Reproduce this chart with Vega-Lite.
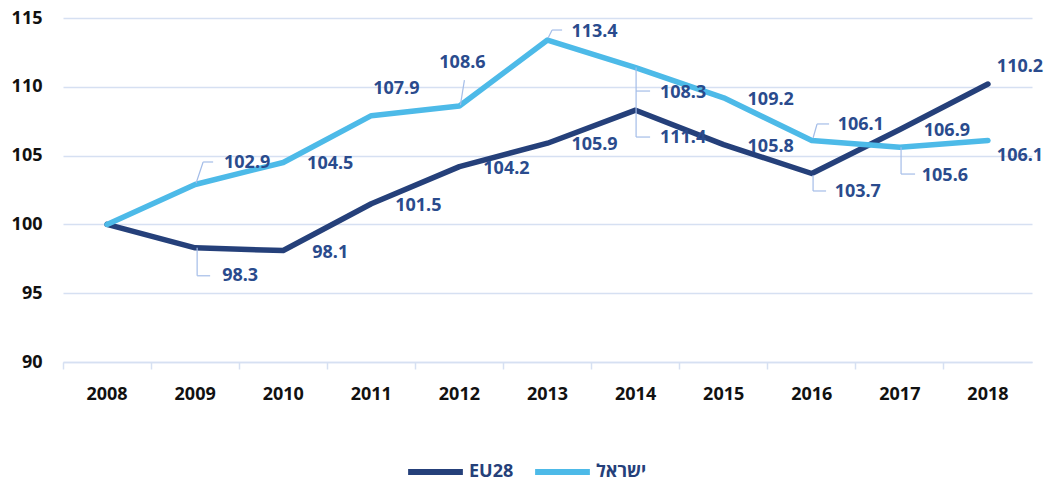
{
  "$schema": "https://vega.github.io/schema/vega-lite/v6.json",
  "autosize": "none",
  "width": 969,
  "height": 344,
  "padding": {"left": 63, "top": 18, "right": 23, "bottom": 120},
  "background": "white",
  "config": {"view": {"stroke": null}, "font": "Noto Sans"},
  "data": {"values": [
    {"year": "2008", "series": "EU28", "value": 100},
    {"year": "2009", "series": "EU28", "value": 98.3},
    {"year": "2010", "series": "EU28", "value": 98.1},
    {"year": "2011", "series": "EU28", "value": 101.5},
    {"year": "2012", "series": "EU28", "value": 104.2},
    {"year": "2013", "series": "EU28", "value": 105.9},
    {"year": "2014", "series": "EU28", "value": 108.3},
    {"year": "2015", "series": "EU28", "value": 105.8},
    {"year": "2016", "series": "EU28", "value": 103.7},
    {"year": "2017", "series": "EU28", "value": 106.9},
    {"year": "2018", "series": "EU28", "value": 110.2},
    {"year": "2008", "series": "ישראל", "value": 100},
    {"year": "2009", "series": "ישראל", "value": 102.9},
    {"year": "2010", "series": "ישראל", "value": 104.5},
    {"year": "2011", "series": "ישראל", "value": 107.9},
    {"year": "2012", "series": "ישראל", "value": 108.6},
    {"year": "2013", "series": "ישראל", "value": 113.4},
    {"year": "2014", "series": "ישראל", "value": 111.4},
    {"year": "2015", "series": "ישראל", "value": 109.2},
    {"year": "2016", "series": "ישראל", "value": 106.1},
    {"year": "2017", "series": "ישראל", "value": 105.6},
    {"year": "2018", "series": "ישראל", "value": 106.1}
  ]},
  "encoding": {
    "x": {"field": "year", "type": "nominal", "title": null,
      "scale": {"type": "band", "paddingInner": 0, "paddingOuter": 0},
      "axis": {"bandPosition": 0, "domainColor": "#D6E0F2", "domainWidth": 1.5, "tickColor": "#D6E0F2", "tickWidth": 1.5, "tickSize": 7, "labelPadding": 16, "labelAngle": 0, "labelFont": "Noto Sans", "labelFontSize": 18, "labelFontWeight": "bold", "labelColor": "#111111", "grid": false}},
    "y": {"field": "value", "type": "quantitative", "title": null,
      "scale": {"domain": [90, 115], "nice": false, "zero": false},
      "axis": {"values": [90, 95, 100, 105, 110, 115], "domain": false, "ticks": false, "labelPadding": 21, "labelFont": "Noto Sans", "labelFontSize": 18, "labelFontWeight": "bold", "labelColor": "#111111", "gridColor": "#D6E0F2", "gridWidth": 1.5}}
  },
  "layer": [
    {"mark": {"type": "line", "strokeWidth": 5.5, "strokeCap": "round", "strokeJoin": "round"},
     "encoding": {"color": {"field": "series", "type": "nominal", "title": null,
       "scale": {"domain": ["EU28", "ישראל"], "range": ["#25407A", "#4DBAE8"]},
       "legend": {"orient": "none", "legendX": 342, "legendY": 444, "direction": "horizontal", "symbolType": "stroke", "symbolSize": 3000, "symbolStrokeWidth": 6, "clipHeight": 20, "labelFont": "Open Sans, DejaVu Sans", "labelFontSize": 18, "labelFontWeight": "bold", "labelColor": "#25407A", "labelOffset": 3, "columnPadding": 18}}}},
    {"transform": [{"filter": {"field": "series", "equal": "EU28"}}, {"filter": {"field": "year", "equal": "2009"}}],
     "mark": {"type": "rule", "color": "#A4BDE8", "strokeWidth": 1.2, "xOffset": 2, "x2Offset": 2, "yOffset": 0, "y2Offset": 28},
     "encoding": {"x2": {"field": "year"}, "y2": {"field": "value"}}},
    {"transform": [{"filter": {"field": "series", "equal": "EU28"}}, {"filter": {"field": "year", "equal": "2009"}}],
     "mark": {"type": "rule", "color": "#A4BDE8", "strokeWidth": 1.2, "xOffset": 2, "x2Offset": 15, "yOffset": 28, "y2Offset": 28},
     "encoding": {"x2": {"field": "year"}, "y2": {"field": "value"}}},
    {"transform": [{"filter": {"field": "series", "equal": "ישראל"}}, {"filter": {"field": "year", "equal": "2009"}}],
     "mark": {"type": "rule", "color": "#A4BDE8", "strokeWidth": 1.2, "xOffset": 1, "x2Offset": 8, "yOffset": -1.5, "y2Offset": -22.5},
     "encoding": {"x2": {"field": "year"}, "y2": {"field": "value"}}},
    {"transform": [{"filter": {"field": "series", "equal": "ישראל"}}, {"filter": {"field": "year", "equal": "2009"}}],
     "mark": {"type": "rule", "color": "#A4BDE8", "strokeWidth": 1.2, "xOffset": 8, "x2Offset": 18, "yOffset": -22.5, "y2Offset": -22.5},
     "encoding": {"x2": {"field": "year"}, "y2": {"field": "value"}}},
    {"transform": [{"filter": {"field": "series", "equal": "ישראל"}}, {"filter": {"field": "year", "equal": "2012"}}],
     "mark": {"type": "rule", "color": "#A4BDE8", "strokeWidth": 1.2, "xOffset": 1, "x2Offset": 5, "yOffset": -1, "y2Offset": -26},
     "encoding": {"x2": {"field": "year"}, "y2": {"field": "value"}}},
    {"transform": [{"filter": {"field": "series", "equal": "ישראל"}}, {"filter": {"field": "year", "equal": "2013"}}],
     "mark": {"type": "rule", "color": "#A4BDE8", "strokeWidth": 1.2, "xOffset": 0.6, "x2Offset": 4.6, "yOffset": -2, "y2Offset": -10},
     "encoding": {"x2": {"field": "year"}, "y2": {"field": "value"}}},
    {"transform": [{"filter": {"field": "series", "equal": "ישראל"}}, {"filter": {"field": "year", "equal": "2013"}}],
     "mark": {"type": "rule", "color": "#A4BDE8", "strokeWidth": 1.2, "xOffset": 4.6, "x2Offset": 14.6, "yOffset": -10, "y2Offset": -10},
     "encoding": {"x2": {"field": "year"}, "y2": {"field": "value"}}},
    {"transform": [{"filter": {"field": "series", "equal": "ישראל"}}, {"filter": {"field": "year", "equal": "2014"}}],
     "mark": {"type": "rule", "color": "#A4BDE8", "strokeWidth": 1.2, "xOffset": 0.5, "x2Offset": 0.5, "yOffset": 0, "y2Offset": 69.5},
     "encoding": {"x2": {"field": "year"}, "y2": {"field": "value"}}},
    {"transform": [{"filter": {"field": "series", "equal": "ישראל"}}, {"filter": {"field": "year", "equal": "2014"}}],
     "mark": {"type": "rule", "color": "#A4BDE8", "strokeWidth": 1.2, "xOffset": 0.5, "x2Offset": 14.5, "yOffset": 23.5, "y2Offset": 23.5},
     "encoding": {"x2": {"field": "year"}, "y2": {"field": "value"}}},
    {"transform": [{"filter": {"field": "series", "equal": "ישראל"}}, {"filter": {"field": "year", "equal": "2014"}}],
     "mark": {"type": "rule", "color": "#A4BDE8", "strokeWidth": 1.2, "xOffset": 0.5, "x2Offset": 14.5, "yOffset": 69.5, "y2Offset": 69.5},
     "encoding": {"x2": {"field": "year"}, "y2": {"field": "value"}}},
    {"transform": [{"filter": {"field": "series", "equal": "ישראל"}}, {"filter": {"field": "year", "equal": "2016"}}],
     "mark": {"type": "rule", "color": "#A4BDE8", "strokeWidth": 1.2, "xOffset": 1.3, "x2Offset": 5.3, "yOffset": -2.5, "y2Offset": -16.5},
     "encoding": {"x2": {"field": "year"}, "y2": {"field": "value"}}},
    {"transform": [{"filter": {"field": "series", "equal": "ישראל"}}, {"filter": {"field": "year", "equal": "2016"}}],
     "mark": {"type": "rule", "color": "#A4BDE8", "strokeWidth": 1.2, "xOffset": 5.3, "x2Offset": 17.3, "yOffset": -16.5, "y2Offset": -16.5},
     "encoding": {"x2": {"field": "year"}, "y2": {"field": "value"}}},
    {"transform": [{"filter": {"field": "series", "equal": "EU28"}}, {"filter": {"field": "year", "equal": "2016"}}],
     "mark": {"type": "rule", "color": "#A4BDE8", "strokeWidth": 1.2, "xOffset": 1.3, "x2Offset": 1.3, "yOffset": 1.5, "y2Offset": 17.5},
     "encoding": {"x2": {"field": "year"}, "y2": {"field": "value"}}},
    {"transform": [{"filter": {"field": "series", "equal": "EU28"}}, {"filter": {"field": "year", "equal": "2016"}}],
     "mark": {"type": "rule", "color": "#A4BDE8", "strokeWidth": 1.2, "xOffset": 1.3, "x2Offset": 14.3, "yOffset": 17.5, "y2Offset": 17.5},
     "encoding": {"x2": {"field": "year"}, "y2": {"field": "value"}}},
    {"transform": [{"filter": {"field": "series", "equal": "ישראל"}}, {"filter": {"field": "year", "equal": "2017"}}],
     "mark": {"type": "rule", "color": "#A4BDE8", "strokeWidth": 1.2, "xOffset": 1.2, "x2Offset": 1.2, "yOffset": 0, "y2Offset": 26.7},
     "encoding": {"x2": {"field": "year"}, "y2": {"field": "value"}}},
    {"transform": [{"filter": {"field": "series", "equal": "ישראל"}}, {"filter": {"field": "year", "equal": "2017"}}],
     "mark": {"type": "rule", "color": "#A4BDE8", "strokeWidth": 1.2, "xOffset": 1.2, "x2Offset": 15.2, "yOffset": 26.7, "y2Offset": 26.7},
     "encoding": {"x2": {"field": "year"}, "y2": {"field": "value"}}},
    {"transform": [{"filter": {"or": [
        {"and": [{"field": "series", "equal": "EU28"}, {"field": "year", "oneOf": ["2010", "2011", "2012", "2013", "2015", "2017"]}]},
        {"and": [{"field": "series", "equal": "ישראל"}, {"field": "year", "oneOf": ["2010", "2015"]}]}]}}],
     "mark": {"type": "text", "dx": 47, "dy": 2, "font": "Noto Sans", "fontSize": 18, "fontWeight": "bold", "color": "#2A4B8D", "align": "center", "baseline": "middle"},
     "encoding": {"text": {"field": "value", "type": "quantitative", "format": ".1f"}}},
    {"transform": [{"filter": {"or": [
        {"and": [{"field": "series", "equal": "EU28"}, {"field": "year", "equal": "2009"}]},
        {"and": [{"field": "series", "equal": "ישראל"}, {"field": "year", "equal": "2017"}]}]}}],
     "mark": {"type": "text", "dx": 45, "dy": 28.5, "font": "Noto Sans", "fontSize": 18, "fontWeight": "bold", "color": "#2A4B8D", "align": "center", "baseline": "middle"},
     "encoding": {"text": {"field": "value", "type": "quantitative", "format": ".1f"}}},
    {"transform": [{"filter": {"and": [{"field": "series", "equal": "EU28"}, {"field": "year", "equal": "2016"}]}}],
     "mark": {"type": "text", "dx": 46, "dy": 18.5, "font": "Noto Sans", "fontSize": 18, "fontWeight": "bold", "color": "#2A4B8D", "align": "center", "baseline": "middle"},
     "encoding": {"text": {"field": "value", "type": "quantitative", "format": ".1f"}}},
    {"transform": [{"filter": {"and": [{"field": "series", "equal": "EU28"}, {"field": "year", "equal": "2014"}]}}],
     "mark": {"type": "text", "dx": 47.5, "dy": -17, "font": "Noto Sans", "fontSize": 18, "fontWeight": "bold", "color": "#2A4B8D", "align": "center", "baseline": "middle"},
     "encoding": {"text": {"field": "value", "type": "quantitative", "format": ".1f"}}},
    {"transform": [{"filter": {"and": [{"field": "series", "equal": "ישראל"}, {"field": "year", "equal": "2014"}]}}],
     "mark": {"type": "text", "dx": 47.5, "dy": 70.5, "font": "Noto Sans", "fontSize": 18, "fontWeight": "bold", "color": "#2A4B8D", "align": "center", "baseline": "middle"},
     "encoding": {"text": {"field": "value", "type": "quantitative", "format": ".1f"}}},
    {"transform": [{"filter": {"and": [{"field": "series", "equal": "EU28"}, {"field": "year", "equal": "2018"}]}}],
     "mark": {"type": "text", "dx": 32, "dy": -17, "font": "Noto Sans", "fontSize": 18, "fontWeight": "bold", "color": "#2A4B8D", "align": "center", "baseline": "middle"},
     "encoding": {"text": {"field": "value", "type": "quantitative", "format": ".1f"}}},
    {"transform": [{"filter": {"and": [{"field": "series", "equal": "ישראל"}, {"field": "year", "equal": "2018"}]}}],
     "mark": {"type": "text", "dx": 32, "dy": 15.5, "font": "Noto Sans", "fontSize": 18, "fontWeight": "bold", "color": "#2A4B8D", "align": "center", "baseline": "middle"},
     "encoding": {"text": {"field": "value", "type": "quantitative", "format": ".1f"}}},
    {"transform": [{"filter": {"and": [{"field": "series", "equal": "ישראל"}, {"field": "year", "equal": "2009"}]}}],
     "mark": {"type": "text", "dx": 52, "dy": -21.5, "font": "Noto Sans", "fontSize": 18, "fontWeight": "bold", "color": "#2A4B8D", "align": "center", "baseline": "middle"},
     "encoding": {"text": {"field": "value", "type": "quantitative", "format": ".1f"}}},
    {"transform": [{"filter": {"and": [{"field": "series", "equal": "ישראל"}, {"field": "year", "equal": "2016"}]}}],
     "mark": {"type": "text", "dx": 49, "dy": -15.5, "font": "Noto Sans", "fontSize": 18, "fontWeight": "bold", "color": "#2A4B8D", "align": "center", "baseline": "middle"},
     "encoding": {"text": {"field": "value", "type": "quantitative", "format": ".1f"}}},
    {"transform": [{"filter": {"and": [{"field": "series", "equal": "ישראל"}, {"field": "year", "equal": "2011"}]}}],
     "mark": {"type": "text", "dx": 25, "dy": -27, "font": "Noto Sans", "fontSize": 18, "fontWeight": "bold", "color": "#2A4B8D", "align": "center", "baseline": "middle"},
     "encoding": {"text": {"field": "value", "type": "quantitative", "format": ".1f"}}},
    {"transform": [{"filter": {"and": [{"field": "series", "equal": "ישראל"}, {"field": "year", "equal": "2012"}]}}],
     "mark": {"type": "text", "dx": 3, "dy": -43, "font": "Noto Sans", "fontSize": 18, "fontWeight": "bold", "color": "#2A4B8D", "align": "center", "baseline": "middle"},
     "encoding": {"text": {"field": "value", "type": "quantitative", "format": ".1f"}}},
    {"transform": [{"filter": {"and": [{"field": "series", "equal": "ישראל"}, {"field": "year", "equal": "2013"}]}}],
     "mark": {"type": "text", "dx": 47, "dy": -8, "font": "Noto Sans", "fontSize": 18, "fontWeight": "bold", "color": "#2A4B8D", "align": "center", "baseline": "middle"},
     "encoding": {"text": {"field": "value", "type": "quantitative", "format": ".1f"}}}
  ]
}
